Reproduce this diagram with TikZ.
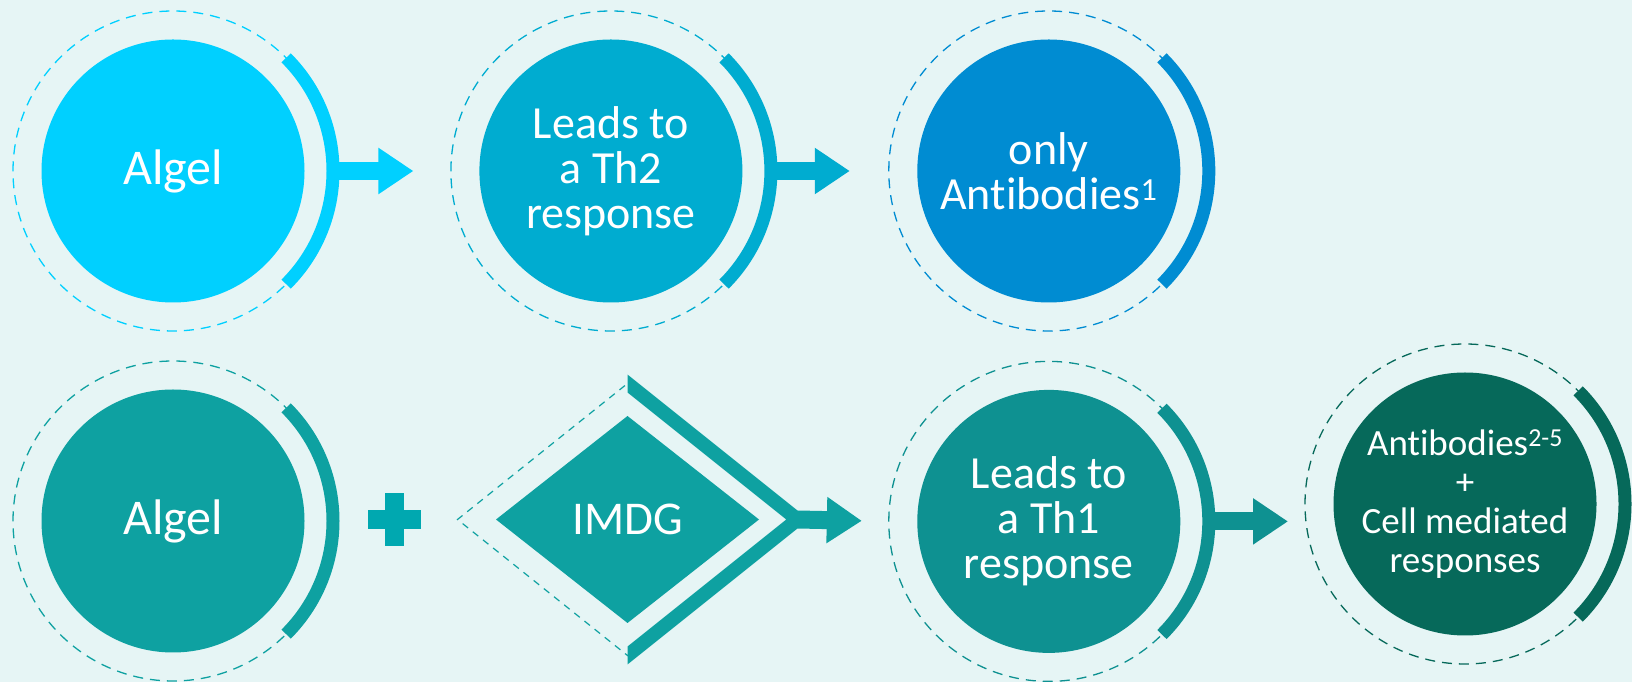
\documentclass[tikz,border=0pt]{standalone}
\usepackage{fontspec}
\setmainfont{Carlito}[Ligatures=CommonOff]
\usepackage{tikz}
\usetikzlibrary{
  arrows.meta,
  positioning,
  shapes.geometric,
  calc
}
\definecolor{pagebg}{RGB}{230,245,245}
\definecolor{algelcyan}{RGB}{0,208,255}
\definecolor{thtwoblue}{RGB}{0,172,208}
\definecolor{abblue}{RGB}{0,140,210}
\definecolor{algelteal}{RGB}{14,161,161}
\definecolor{thoneteal}{RGB}{14,145,145}
\definecolor{cellgreen}{RGB}{6,105,90}
\definecolor{plusteal}{RGB}{0,168,176}
\tikzset{
  stage/.style={circle, fill=#1, text=white, minimum size=263pt,
    inner sep=0pt, align=center},
  ring/.style={circle, draw=#1, line width=1.3pt,
    dash pattern=on 10pt off 7pt, minimum size=320pt,
    inner sep=0pt, outer sep=0pt},
  band/.style={draw=#1, line width=13pt},
  flow/.style={draw=#1, line width=18pt,
    -{Triangle[length=35pt, width=44pt]}},
}

\begin{document}
\begin{tikzpicture}[x=1pt, y=1pt,
  bigtext/.style={font=\fontsize{50}{52}\selectfont},
  midtext/.style={font=\fontsize{46}{45}\selectfont},
  smalltext/.style={font=\fontsize{37}{39}\selectfont}
]
  \path[use as bounding box, fill=pagebg] (0,0) rectangle (1632,682);

  % Algel alone
  \node[stage=algelcyan, bigtext] (algel) at (173,511) {Algel};
  \node[stage=thtwoblue, midtext, right=174.5pt of algel] (thtwo)
    {Leads to\\a Th2\\response};
  \node[stage=abblue, midtext, right=174.5pt of thtwo] (abonly)
    {only\\Antibodies\textsuperscript{1}};

  \node[ring=algelcyan] (algelring) at (algel) {};
  \node[ring=thtwoblue] (thtworing) at (thtwo) {};
  \node[ring=abblue] (abonlyring) at (abonly) {};

  \draw[band=algelcyan] ([shift={(-45:160)}]algel.center)
    arc[start angle=-45, end angle=45, radius=160];
  \draw[band=thtwoblue] ([shift={(-45:160)}]thtwo.center)
    arc[start angle=-45, end angle=45, radius=160];
  \draw[band=abblue] ([shift={(-45:160)}]abonly.center)
    arc[start angle=-45, end angle=45, radius=160];

  \draw[flow=algelcyan, shorten >=37.5pt] (algelring.east) -- (thtworing.west);
  \draw[flow=thtwoblue, shorten >=39pt] (thtworing.east) -- (abonlyring.west);

  % Algel + IMDG
  \node[stage=algelteal, bigtext] (algeltwo) at (173,161) {Algel};
  \coordinate (plus) at (394.5,162.5);
  \node[diamond, fill=algelteal, text=white, minimum width=263pt,
    minimum height=207pt, inner sep=0pt, outer sep=0pt,
    font=\fontsize{47}{47}\selectfont] (imdg) at (627.5,162.5) {IMDG};
  \node[stage=thoneteal, midtext, below=87pt of abonly] (thone)
    {Leads to\\a Th1\\response};
  \node[stage=cellgreen, smalltext] (cell) at (1465,178)
    {Antibodies\textsuperscript{2-5}\\+\\Cell mediated\\responses};

  \node[ring=algelteal] (algeltworing) at (algeltwo) {};
  \node[diamond, draw=algelteal, line width=1.2pt,
    dash pattern=on 7pt off 6pt, minimum width=340pt,
    minimum height=272pt, inner sep=0pt, outer sep=0pt] (imdgring) at (imdg) {};
  \node[ring=thoneteal] (thonering) at (thone) {};
  \node[ring=cellgreen] (cellring) at (cell) {};

  \fill[plusteal] ($(plus)+(-26.5,-9.5)$) rectangle +(53,19);
  \fill[plusteal] ($(plus)+(-9.5,-26.5)$) rectangle +(19,53);

  \draw[band=algelteal] ([shift={(-45:160)}]algeltwo.center)
    arc[start angle=-45, end angle=45, radius=160];
  \begin{scope}
    \clip ($(imdgring.south)+(0,-20)$) rectangle ($(imdgring.north)+(200,20)$);
    \draw[band=algelteal, line width=14pt, miter limit=4]
      ($(imdgring.north)!-0.1!(imdgring.east)$) -- (imdgring.east)
      -- ($(imdgring.south)!-0.1!(imdgring.east)$);
  \end{scope}
  \draw[band=thoneteal] ([shift={(-45:160)}]thone.center)
    arc[start angle=-45, end angle=45, radius=160];
  \draw[band=cellgreen] ([shift={(-45:160)}]cell.center)
    arc[start angle=-45, end angle=45, radius=160];

  \draw[flow=algelteal, shorten >=27pt] (imdgring.east) -- (thonering.west);
  \draw[flow=thoneteal, shorten >=17pt]
    (thonering.east) -- (thonering.east -| cellring.west);
\end{tikzpicture}
\end{document}
